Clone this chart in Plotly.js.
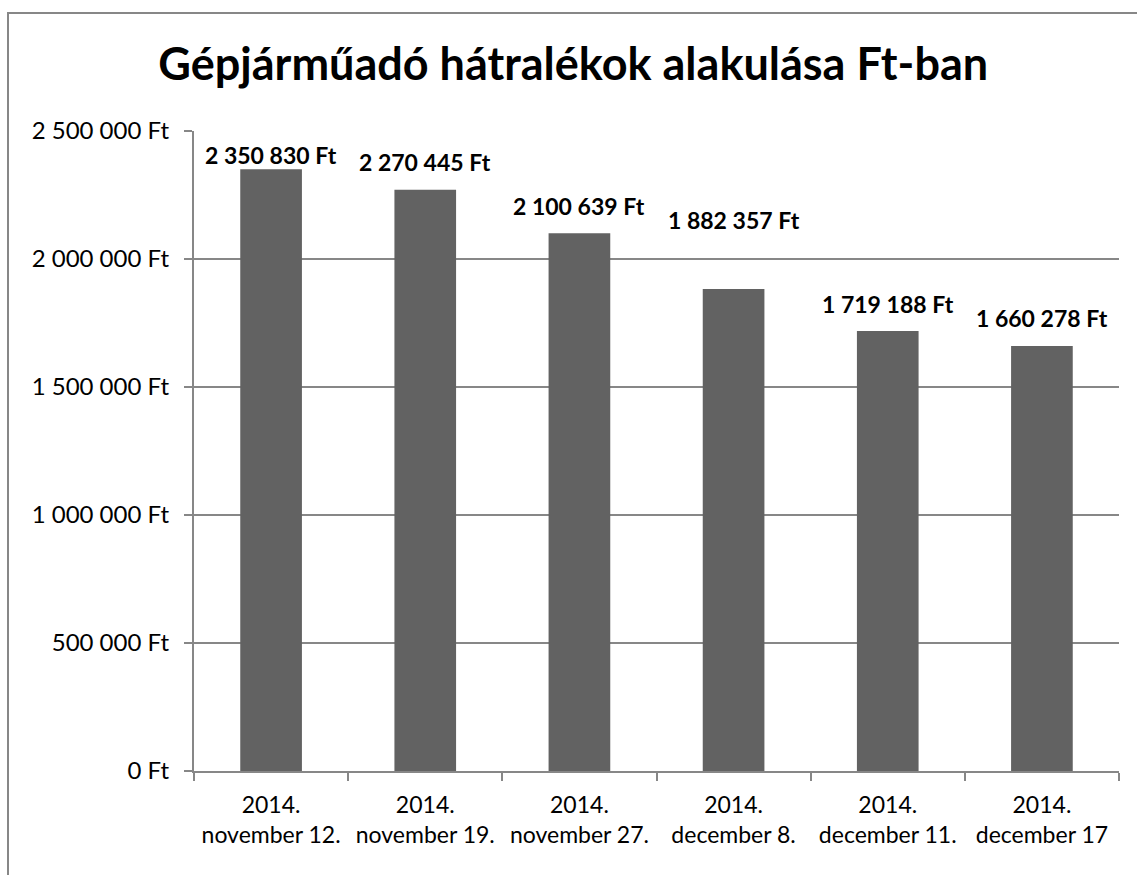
<!DOCTYPE html>
<html>
<head>
<meta charset="utf-8">
<script src="https://cdn.plot.ly/plotly-3.0.1.min.js"></script>
<style>
  html, body { margin: 0; padding: 0; background: #fff; }
  #wrap { position: relative; width: 1137px; height: 875px; overflow: hidden; }
  #chart { position: absolute; left: 0; top: 0; width: 1137px; height: 875px; }
  #frame { position: absolute; left: 7px; top: 12px; width: 1200px; height: 900px;
           border-left: 2px solid #878787; border-top: 2px solid #878787; pointer-events: none; }
</style>
</head>
<body>
<div id="wrap">
  <div id="chart"></div>
  <div id="frame"></div>
</div>
<script>
// ---- data ----
const years = ["2014.", "2014.", "2014.", "2014.", "2014.", "2014."];
const days = ["november 12.", "november 19.", "november 27.", "december 8.", "december 11.", "december 17"];
const values = [2350830, 2270445, 2100639, 1882357, 1719188, 1660278];
const yTicks = [0, 500000, 1000000, 1500000, 2000000, 2500000];
const chartTitle = "Gépjárműadó hátralékok alakulása Ft-ban";

// ---- style ----
const labelLift = [14, 28, 27, 69, 27, 28];
const FONT = "Lato, 'Open Sans', sans-serif";

const categories = years.map((y, i) => y + "<br>" + days[i]);
function fmt(v) {
  return String(v).replace(/\B(?=(\d{3})+(?!\d))/g, " ") + " Ft";
}

const trace = {
  type: "bar",
  x: categories,
  y: values,
  marker: { color: "#626262" },
  width: 0.4,
  hoverinfo: "skip"
};

const annotations = values.map((v, i) => ({
  x: categories[i], y: v, xref: "x", yref: "y",
  text: "<b>" + fmt(v) + "</b>",
  showarrow: false, yanchor: "middle", xanchor: "center",
  yshift: labelLift[i],
  font: { family: FONT, size: 23, color: "#000" }
}));

const layout = {
  width: 1137, height: 875,
  margin: { l: 194, r: 18, t: 131, b: 104 },
  paper_bgcolor: "rgba(0,0,0,0)",
  plot_bgcolor: "rgba(0,0,0,0)",
  showlegend: false,
  font: { family: FONT, color: "#000" },
  title: {
    text: "<b>" + chartTitle + "</b>",
    font: { family: FONT, size: 45, color: "#000" },
    xref: "paper", x: 0.41, xanchor: "center",
    yref: "container", y: 1 - 64 / 875, yanchor: "middle"
  },
  xaxis: {
    type: "category",
    showline: true, linecolor: "#878787", linewidth: 2,
    ticks: "outside", tickson: "boundaries", ticklen: 8, tickcolor: "#878787", tickwidth: 2,
    showgrid: false,
    tickangle: 0,
    tickfont: { family: FONT, size: 23, color: "#000" },
    ticklabelstandoff: 12,
    fixedrange: true
  },
  yaxis: {
    range: [0, 2500000],
    tickmode: "array",
    tickvals: yTicks,
    ticktext: yTicks.map(fmt),
    showline: true, linecolor: "#878787", linewidth: 2,
    ticks: "outside", ticklen: 8, tickcolor: "#878787", tickwidth: 2,
    showgrid: true, gridcolor: "#878787", gridwidth: 2,
    zeroline: false,
    tickfont: { family: FONT, size: 24, color: "#000" },
    ticklabelstandoff: 10,
    fixedrange: true
  },
  annotations: annotations
};

Plotly.newPlot("chart", [trace], layout, { displayModeBar: false, staticPlot: true });
</script>
</body>
</html>
